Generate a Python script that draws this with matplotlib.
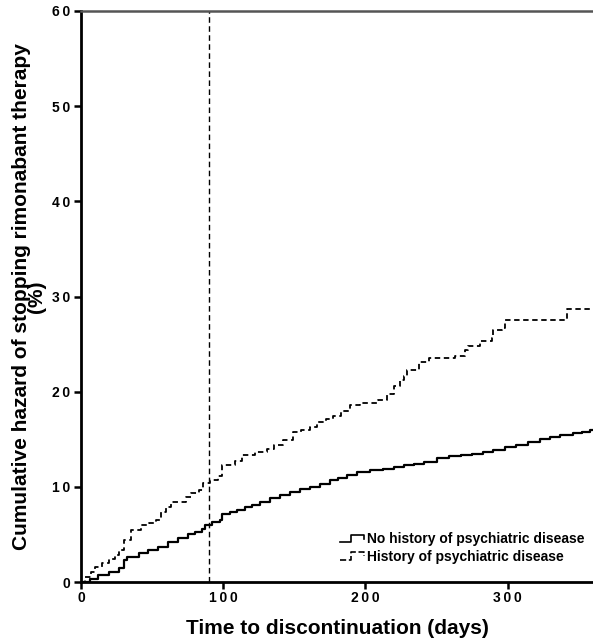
import matplotlib
matplotlib.use("Agg")
import matplotlib.pyplot as plt
from matplotlib.legend_handler import HandlerBase
from matplotlib.lines import Line2D

plt.rcParams['font.family'] = ['Liberation Sans', 'DejaVu Sans']

# Data: cumulative hazard (%) step functions
no_hist_days = [0, 6, 12, 20, 27, 30, 32, 41, 47, 54,
                61, 68, 75, 80, 85, 87, 92, 97.5, 99, 105,
                110, 115, 120, 126, 133, 140, 147, 154, 161, 168,
                175, 181, 187, 194, 203, 212, 220, 227, 234, 241,
                250, 259, 267, 275, 283, 290, 298, 306, 314, 323,
                330, 337, 346, 352, 358, 360]
no_hist_vals = [0, 0.35, 0.7, 1.1, 1.5, 2.3, 2.6, 3.0, 3.35, 3.7,
                4.2, 4.6, 5.0, 5.3, 5.6, 6.0, 6.3, 6.5, 7.1, 7.35,
                7.6, 7.85, 8.1, 8.4, 8.8, 9.15, 9.5, 9.75, 10.0, 10.35,
                10.7, 10.95, 11.2, 11.6, 11.75, 11.9, 12.1, 12.3, 12.45, 12.6,
                13.0, 13.2, 13.35, 13.5, 13.7, 13.9, 14.15, 14.4, 14.7, 15.0,
                15.2, 15.4, 15.7, 15.8, 16.0, 16.0]

hist_days = [0, 3, 7, 9.6, 15, 20, 24, 27, 30, 35,
             42, 48, 53, 56.5, 60, 63.5, 70, 74, 77.5, 83,
             86, 90.5, 96, 99, 108, 113, 122, 130.5, 136, 142,
             149, 155, 161, 166, 172, 177, 183, 189, 196, 209,
             215, 220, 224, 227, 229, 238, 245, 263, 270, 272,
             280.5, 289, 290, 296, 298, 341.5, 360]
hist_vals = [0, 0.5, 1.1, 1.6, 2.0, 2.4, 2.8, 3.4, 4.4, 5.5,
             6.0, 6.25, 6.5, 7.4, 7.9, 8.4, 8.4, 8.9, 9.3, 9.7,
             10.4, 10.7, 11.1, 12.3, 12.7, 13.3, 13.7, 14.0, 14.4, 14.9,
             15.8, 16.0, 16.3, 16.8, 17.1, 17.4, 18.0, 18.6, 18.8, 19.1,
             19.8, 20.6, 21.2, 21.6, 22.3, 23.1, 23.5, 23.7, 24.4, 24.8,
             25.3, 25.6, 26.5, 26.7, 27.5, 28.7, 28.7]

series_labels = ["No history of psychiatric disease", "History of psychiatric disease"]
x_ticks = [0, 100, 200, 300]
y_ticks = [0, 10, 20, 30, 40, 50, 60]
landmark_day = 90


class StepHandler(HandlerBase):
    def create_artists(self, legend, orig_handle, xdescent, ydescent, width, height, fontsize, trans):
        x0 = -xdescent
        y0 = -ydescent
        xs = [x0, x0 + width * 0.45, x0 + width * 0.45, x0 + width * 0.95, x0 + width * 0.95]
        ys = [y0 + height * 0.15, y0 + height * 0.15, y0 + height * 0.9, y0 + height * 0.9, y0 + height * 0.5]
        ln = Line2D(xs, ys, color=orig_handle.get_color(), linestyle=orig_handle.get_linestyle(),
                    linewidth=1.2, transform=trans)
        return [ln]


fig = plt.figure(figsize=(5.93, 6.43), dpi=100)
ax = fig.add_axes([81 / 593, (643 - 582) / 643, (593 - 81) / 593, (582 - 11) / 643])

l1, = ax.step(no_hist_days, no_hist_vals, where='post', color='black', lw=1.6, label=series_labels[0])
l2, = ax.step(hist_days, hist_vals, where='post', color='black', lw=1.3, ls=(0, (3, 2)), label=series_labels[1])
ax.axvline(landmark_day, color='black', lw=1.0, ls=(0, (4, 2.5)))

ax.set_xlim(0, 360)
ax.set_ylim(0, 60)
ax.set_xticks(x_ticks)
ax.set_yticks(y_ticks)
ax.set_xticklabels(["\u2009".join(str(t)) for t in x_ticks], fontweight='bold', fontsize=10)
ax.set_yticklabels(["\u2009".join(str(t)) for t in y_ticks], fontweight='bold', fontsize=10)
ax.tick_params(direction='out', length=5, width=1.8)
ax.tick_params(axis='x', pad=1.5)
ax.tick_params(axis='y', pad=3)

for s in ['left', 'bottom']:
    ax.spines[s].set_linewidth(2.0)
ax.spines['top'].set_linewidth(1.8)
ax.spines['top'].set_color('#555555')
ax.spines['right'].set_visible(False)

ax.set_xlabel("Time to discontinuation (days)", fontweight='bold', fontsize=15, labelpad=10)
ax.set_ylabel("Cumulative hazard of stopping rimonabant therapy\n(%)", fontweight='bold', fontsize=15,
              labelpad=4, linespacing=0.75)

leg = ax.legend(handles=[l1, l2], handler_map={Line2D: StepHandler()}, loc='lower right',
                bbox_to_anchor=(1.0, 0.017), frameon=False, prop={'weight': 'bold', 'size': 10},
                handlelength=1.8, handletextpad=0.15, labelspacing=0.25, borderaxespad=0.2)

fig.savefig("out.png", dpi=100)
